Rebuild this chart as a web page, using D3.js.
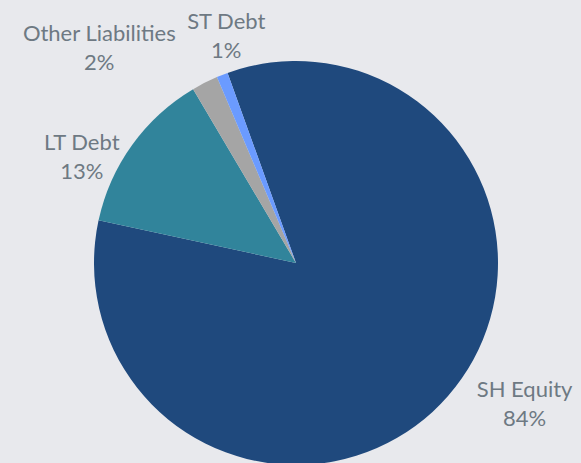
<!DOCTYPE html>
<html>
<head>
<meta charset="utf-8">
<script src="https://cdn.jsdelivr.net/npm/d3@7"></script>
<style>
  html, body { margin: 0; padding: 0; background: #e8e9ed; }
  svg { display: block; }
</style>
</head>
<body>
<div id="chart"></div>
<script>
// slice data, clockwise from the top-right edge of SH Equity
const categories = ['SH Equity', 'LT Debt', 'Other Liabilities', 'ST Debt']
const values = [83.8, 13.1, 2.1, 0.9]
const colors = ['#1f497d', '#31849b', '#a5a5a5', '#6b9bff']

const width = 581
const height = 463
const cx = 296
const cy = 263
const radius = 202
const startDeg = -19.8

// label nudges from the outer point (layout only)
const labelShift = {
  'SH Equity': [54, -13],
  'LT Debt': [-26, 29],
  'Other Liabilities': [-92, -9],
  'ST Debt': [15, -12]
}

const data = categories.map((c, i) => ({ name: c, value: values[i], color: colors[i] }))
const total = d3.sum(values)

const svg = d3.select('#chart')
  .append('svg')
    .attr('width', width)
    .attr('height', height)

svg.append('rect')
  .attr('width', width)
  .attr('height', height)
  .attr('fill', '#e8e9ed')

const start = startDeg * Math.PI / 180
const pie = d3.pie()
  .sort(null)
  .value(d => d.value)
  .startAngle(start)
  .endAngle(start + 2 * Math.PI)

const arcs = pie(data)
const arc = d3.arc().innerRadius(0).outerRadius(radius)
const outer = d3.arc().innerRadius(radius + 30).outerRadius(radius + 30)

const g = svg.append('g').attr('transform', `translate(${cx},${cy})`)

g.selectAll('path')
  .data(arcs)
  .enter().append('path')
    .attr('d', arc)
    .attr('fill', d => d.data.color)

const labels = g.selectAll('text')
  .data(arcs)
  .enter().append('text')
    .attr('text-anchor', 'middle')
    .attr('font-family', 'Lato, "Open Sans", sans-serif')
    .attr('font-size', 22)
    .attr('fill', '#6e7983')
    .attr('transform', d => {
      const [x, y] = outer.centroid(d)
      const [dx, dy] = labelShift[d.data.name]
      return `translate(${x + dx},${y + dy})`
    })

labels.append('tspan')
  .attr('x', 0)
  .attr('dy', '-0.28em')
  .text(d => d.data.name)

labels.append('tspan')
  .attr('x', 0)
  .attr('dy', 29)
  .text(d => Math.round(d.data.value / total * 100) + '%')
</script>
</body>
</html>
